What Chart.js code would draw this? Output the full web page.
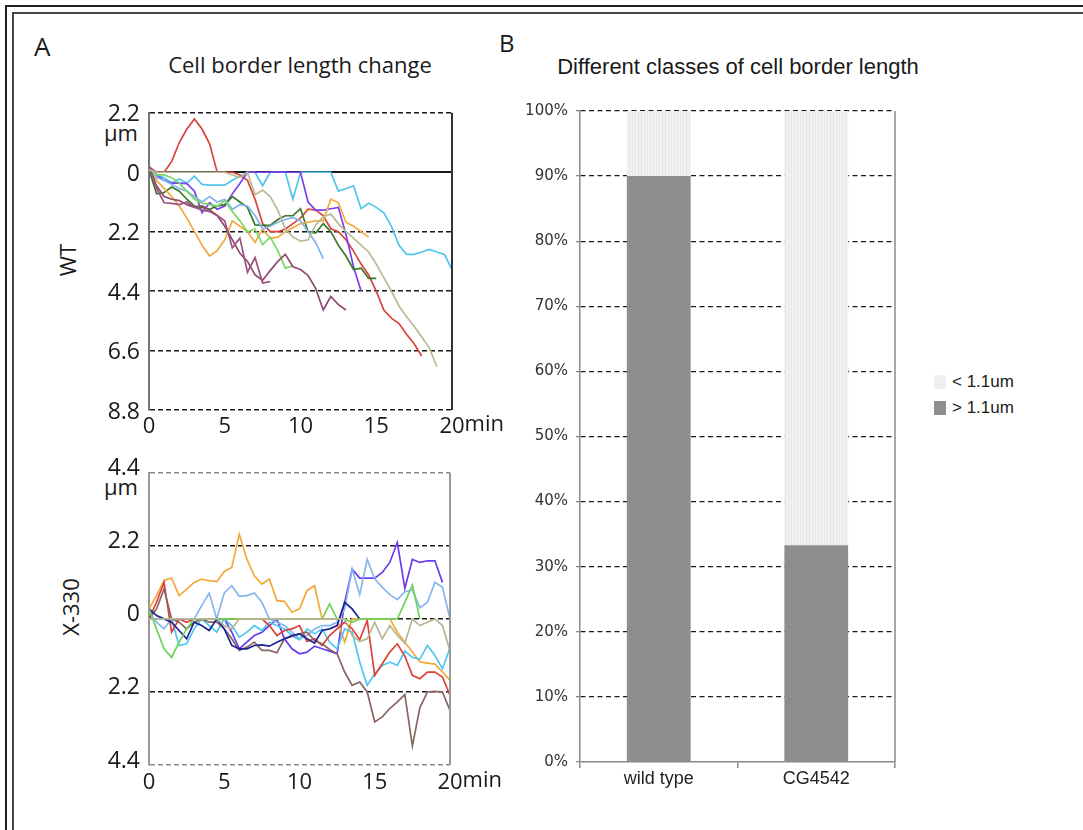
<!DOCTYPE html>
<html>
<head>
<meta charset="utf-8">
<script src="https://cdn.jsdelivr.net/npm/chart.js@4.4.1/dist/chart.umd.min.js"></script>
<style>
  body { margin: 0; width: 1083px; height: 830px; position: relative; background: #fff; overflow: hidden; }
  .frame { position: absolute; right: -10px; bottom: -10px; border-top: 2px solid #1e1e1e; border-left: 2px solid #1e1e1e; }
  .txt { position: absolute; line-height: 1; white-space: nowrap; color: #1a1a1a; }
  .c { transform: translate(-50%, -50%); }
  .v { transform: translate(-50%, -50%) rotate(-90deg); }
  .panelA { font-family: "Open Sans", sans-serif; }
  .panelB { font-family: "Liberation Sans", Arial, sans-serif; }
  canvas { position: absolute; }
  .sw { position: absolute; width: 12px; height: 14px; }
</style>
</head>
<body>
<div class="frame" style="left:5px;top:5px"></div>
<div class="frame" style="left:12px;top:12px;border-color:#444"></div>

<div class="txt panelA" style="left:34px;top:33px;font-size:26px">A</div>
<div class="txt panelA c" style="left:300px;top:64px;font-size:22px">Cell border length change</div>
<div class="txt panelA v" style="left:67px;top:260px;font-size:22px">WT</div>
<div class="txt panelA v" style="left:70px;top:607px;font-size:22px">X-330</div>
<div class="txt panelA c" style="left:121px;top:132px;font-size:22px">μm</div>
<div class="txt panelA c" style="left:121px;top:486px;font-size:22px">μm</div>

<div class="txt panelA" style="left:499px;top:31px;font-size:24px">B</div>
<div class="txt panelB c" style="left:738px;top:67px;font-size:22px">Different classes of cell border length</div>

<div class="sw" style="left:934px;top:375px;background:#efefef"></div>
<div class="txt panelB" style="left:952px;top:373px;font-size:17px">&lt; 1.1um</div>
<div class="sw" style="left:934px;top:401px;background:#8e8e8e"></div>
<div class="txt panelB" style="left:952px;top:399px;font-size:17px">&gt; 1.1um</div>

<canvas id="wtChart" width="420" height="360" style="left:90px;top:90px"></canvas>
<canvas id="x330Chart" width="420" height="350" style="left:90px;top:450px"></canvas>
<canvas id="classChart" width="583" height="720" style="left:500px;top:90px"></canvas>

<script>
// ====== shared time axis (min) ======
const minutes = [0, 0.5, 1, 1.5, 2, 2.5, 3, 3.5, 4, 4.5, 5, 5.5, 6, 6.5, 7, 7.5, 8, 8.5, 9, 9.5,
  10, 10.5, 11, 11.5, 12, 12.5, 13, 13.5, 14, 14.5, 15, 15.5, 16, 16.5, 17, 17.5, 18, 18.5, 19, 19.5, 20];
const minuteTicks = [0, 5, 10, 15, 20];

// ====== WT border length change (um, negative = shorter) ======
const wtTicks = [-8.8, -6.6, -4.4, -2.2, 0, 2.2];
const wtRed = [0.2, 0, 0, 0.4, 1.1, 1.6, 1.97, 1.6, 1.05, 0, 0, 0, -0.1, -0.3, -1.0, -1.9, -2.2, -2.2, -2.1, -1.9,
  -1.7, -1.37, -1.4, -1.6, -2.09, -2.2, -2.5, -2.92, -3.4, -3.8, -4.4, -5.1, -5.4, -5.6, -6.0, -6.35, -6.8];
const wtCyan = [0.1, -0.1, -0.2, -0.4, -0.25, -0.4, -0.15, -0.45, -0.48, -0.48, -0.48, -0.3, -0.15, 0, 0, -0.5, 0, 0, 0, -1.0,
  0, 0, 0, 0, 0, -0.7, -0.6, -0.5, -1.35, -1.15, -1.3, -1.5, -2.0, -2.7, -3.04, -3.04, -2.95, -2.86, -2.95, -3.04, -3.6];
const wtPurple = [0.2, -0.1, -0.3, -0.4, -0.4, -0.42, -0.7, -1.5, -1.13, -1.37, -1.25, -0.8, -0.42, 0, 0, 0, 0, 0, 0, 0,
  0, -1.1, -1.4, -1.4, -1.35, -1.3, -2.3, -3.5, -4.4];
const wtLightBlue = [0.1, -0.2, -0.3, -0.45, -0.6, -0.7, -0.9, -1.1, -0.9, -1.1, -1.0, -1.37, -1.2, -1.25, -1.6, -2.1, -2.0, -1.85, -1.75, -1.67,
  -1.8, -2.2, -2.6, -3.2];
const wtOrange = [0.1, -0.3, -0.6, -0.9, -1.25, -1.7, -2.2, -2.7, -3.1, -2.9, -2.5, -1.8, -2.0, -2.2, -2.6, -2.1, -2.45, -2.4, -2.2, -2.05,
  -1.9, -1.85, -1.8, -1.8, -1.0, -1.13, -1.85, -2.0, -2.2, -2.4];
const wtDarkGreen = [0.1, -0.8, -0.75, -0.55, -0.7, -1.0, -1.25, -1.3, -1.37, -1.25, -1.2, -0.9, -1.1, -1.3, -1.95, -1.97, -1.97, -1.75, -1.61, -1.61,
  -1.35, -2.2, -2.25, -1.9, -2.2, -2.7, -3.1, -3.6, -3.55, -3.93, -3.93];
const wtLightGreen = [0.1, -0.1, -0.1, -0.2, -0.4, -0.7, -1.0, -1.15, -1.2, -1.25, -1.05, -1.45, -1.8, -2.2, -2.1, -2.68, -2.4, -2.9, -3.55, -3.46];
const wtKhaki = [0.1, 0, 0, 0, 0, 0, 0, 0, 0, 0, 0, -0.1, -0.2, 0, -0.83, -0.66, -0.9, -1.4, -2.1, -2.4,
  -2.55, -2.5, -1.95, -1.65, -1.55, -1.9, -2.2, -2.44, -2.7, -2.95, -3.4, -3.9, -4.4, -4.95, -5.35, -5.7, -6.1, -6.5, -7.2];
const wtMauveA = [0.25, -0.6, -1.13, -1.15, -1.2, -1.1, -1.3, -1.4, -1.45, -1.6, -1.8, -2.8, -2.44, -3.7, -3.16, -4.1, -4.05];
const wtMauveB = [0.2, -0.5, -0.9, -1.0, -1.05, -1.2, -1.3, -1.25, -1.4, -1.6, -2.0, -2.5, -3.0, -3.3, -3.8, -4.0, -3.64, -3.3, -3.04, -3.5,
  -3.6, -3.82, -4.3, -5.1, -4.6, -4.9, -5.1];

// ====== X-330 border length change (um) ======
const x330Ticks = [-4.4, -2.2, 0, 2.2, 4.4];
const x330Orange = [0.3, 0.7, 1.16, 1.23, 0.7, 0.9, 1.1, 1.2, 1.15, 1.12, 1.43, 1.55, 2.55, 1.8, 1.3, 1.05, 1.2, 0.55, 0.53, 0.2,
  0.3, 0.85, 1.0, 0, 0, 0, -0.7, 0, 0, 0, 0, 0, 0, -0.4, -0.7, -1.0, -1.3, -1.33, -1.36, -1.6, -1.85];
const x330LightBlue = [0.2, -0.1, -0.3, 0, 0, 0, 0, 0.4, 0.78, 0, 0.78, 1.0, 0.68, 0.7, 0.78, 0.5, 0, -0.1, -0.2, -0.4,
  -0.6, -0.5, -0.3, -0.2, -0.2, -0.1, 0.3, 1.5, 0.73, 1.79, 1.21, 0.95, 0.73, 0.58, 0.82, 0.87, 0.34, 0.5, 1.1, 0.95, 0];
const x330Violet = [0, 0, 0, 0, 0, 0, 0, 0, 0, 0, 0, -0.4, -0.9, -0.7, -0.5, -0.4, -0.2, 0, -0.6, -0.9,
  -1.05, -1.0, -0.82, -0.9, -0.97, -1.05, 0.5, 1.5, 1.23, 1.23, 1.23, 1.4, 1.7, 2.3, 0.92, 1.79, 1.7, 1.75, 1.75, 1.1];
const x330Navy = [0.3, 0.1, 0, -0.1, -0.35, -0.6, -0.1, -0.2, -0.35, 0, -0.3, -0.8, -0.9, -0.9, -0.8, -0.78, -0.82, -0.7, -0.6, -0.5,
  -0.45, -0.6, -0.73, -0.35, -0.3, -0.2, 0.5, 0.3, 0];
const x330Brown = [0, 0.3, 0.9, 0, -0.1, -0.3, -0.1, 0, -0.1, -0.1, -0.3, -0.6, -0.95, -0.85, -0.7, -0.95, -0.95, -1.02, -0.6, -0.53,
  -0.45, -0.4, -0.65, -0.75, -0.92, -1.05, -1.6, -2.0, -1.9, -2.2, -3.1, -2.95, -2.7, -2.5, -2.28, -3.83, -2.67, -2.2, -2.18, -2.2, -2.76];
const x330Red = [0, 0.5, 1.1, -0.4, 0, -0.1, 0, 0, 0, 0, 0, 0, 0, 0, 0, 0, -0.2, -0.5, -0.35, -0.3,
  -0.2, -0.68, -0.6, -0.8, -0.5, -0.3, -0.1, -0.3, -0.63, -0.05, -1.7, -1.35, -1.0, -0.75, -1.12, -1.7, -1.8, -1.6, -1.6, -1.75, -2.3];
const x330Cyan = [0, 0, 0, 0, -0.8, -0.75, -0.3, 0, -0.2, -0.4, 0, -0.2, -0.55, -0.4, -0.2, -0.35, -0.1, -0.2, -0.3, -0.5,
  -0.63, -0.3, -0.45, -0.3, -0.7, -0.9, -0.3, -0.4, -1.3, -2.0, -1.65, -1.4, -1.3, -1.4, -0.97, -1.16, -1.21, -0.8, -1.1, -1.5, -0.87];
const x330Green = [0.3, -0.3, -0.9, -1.16, -0.7, -0.3, 0, 0, 0, 0, 0, 0, 0, 0, 0, 0, 0, 0, 0, 0,
  0, 0, 0, 0, 0.45, 0, 0, -0.1, 0, 0, 0, 0, 0, 0, 0.5, 1.02, 0];
const x330Khaki = [0, 0, 0, 0, 0, 0, 0, 0, 0, 0, -0.2, -0.3, 0, 0, 0, 0, 0, 0, 0, 0,
  0, 0, 0, 0, 0, 0, 0, -0.5, -0.68, -0.6, -0.1, -0.6, -0.2, -0.5, -0.73, 0, -0.2, -0.1, 0, -0.2, -0.97];

// ====== classes of border length (%) ======
const groups = ["wild type", "CG4542"];
const longShare = [90, 33.3];    // > 1.1um
const shortShare = [10, 66.7];   // < 1.1um
const percentTicks = [0, 10, 20, 30, 40, 50, 60, 70, 80, 90, 100];

// ---- helpers ----
const ink = "#1a1a1a";

function series(values, color) {
  return {
    data: values.map((v, i) => ({ x: minutes[i], y: v })),
    borderColor: color,
    borderWidth: 1.7,
    pointRadius: 0,
    tension: 0,
    fill: false
  };
}

// right frame line + "min" unit after last x tick
const extras = {
  id: "extras",
  afterDraw(chart, args, opts) {
    const { ctx, chartArea: a } = chart;
    ctx.save();
    if (opts.frameColor) {
      ctx.strokeStyle = opts.frameColor;
      ctx.lineWidth = opts.frameWidth || 1.5;
      ctx.beginPath();
      ctx.moveTo(a.right, a.top);
      ctx.lineTo(a.right, a.bottom);
      ctx.stroke();
    }
    if (opts.unit) {
      const xs = chart.scales.x;
      const t = xs.options.ticks;
      const last = xs.ticks[xs.ticks.length - 1];
      const px = xs.getPixelForValue(last.value);
      ctx.font = t.font.size + "px " + t.font.family;
      const w = ctx.measureText(String(last.value)).width;
      ctx.fillStyle = t.color;
      ctx.textAlign = "left";
      ctx.textBaseline = "middle";
      ctx.fillText(opts.unit, px + w / 2, xs.top + t.padding + t.font.size * 0.6 + 6);
    }
    ctx.restore();
  }
};

function lineChart(id, sets, yTicks, cfg) {
  const top = yTicks[yTicks.length - 1];
  const bottom = yTicks[0];
  return new Chart(document.getElementById(id), {
    type: "line",
    data: { datasets: sets },
    options: {
      responsive: false,
      animation: false,
      layout: { padding: { top: cfg.padTop, right: cfg.padRight, left: 0, bottom: 0 } },
      plugins: {
        legend: { display: false },
        tooltip: { enabled: false },
        extras: { frameColor: cfg.frame, frameWidth: 2, unit: "min" }
      },
      scales: {
        x: {
          type: "linear",
          min: 0,
          max: 20,
          afterBuildTicks: s => { s.ticks = minuteTicks.map(v => ({ value: v })); },
          afterFit: s => { s.height = cfg.xHeight; },
          grid: { display: false },
          border: { display: false },
          ticks: {
            padding: cfg.xPad,
            maxRotation: 0,
            autoSkip: false,
            color: ink,
            font: { family: "Open Sans", size: 22 },
            callback: v => String(v)
          }
        },
        y: {
          min: bottom,
          max: top,
          afterBuildTicks: s => { s.ticks = yTicks.map(v => ({ value: v })); },
          afterFit: s => { s.width = cfg.yWidth; },
          grid: {
            drawTicks: false,
            color: c => (c.tick && (c.tick.value === top || c.tick.value === bottom) ? cfg.edgeGrid : "#1a1a1a"),
            lineWidth: c => (c.tick && c.tick.value === 0 ? cfg.zeroWidth : 1.4)
          },
          border: {
            color: cfg.axis,
            width: 2,
            dash: c => (c.tick && c.tick.value === 0 && cfg.solidZero ? [] : [5, 3])
          },
          ticks: {
            padding: 9,
            labelOffset: cfg.labelOffset,
            color: ink,
            font: { family: "Open Sans", size: 23 },
            callback: v => (v === 0 ? "0" : Math.abs(v).toFixed(1))
          }
        }
      }
    },
    plugins: [extras]
  });
}

// ====== WT ======
lineChart("wtChart", [
  series(wtKhaki, "#b9ba95"),
  series(wtMauveA, "#9c527e"),
  series(wtMauveB, "#8f4a72"),
  series(wtLightGreen, "#79d862"),
  series(wtLightBlue, "#82b4ee"),
  series(wtOrange, "#f2aa3e"),
  series(wtDarkGreen, "#3a7a29"),
  series(wtPurple, "#7a3ff0"),
  series(wtRed, "#d9443a"),
  series(wtCyan, "#50c6ec")
], wtTicks, {
  padTop: 13, padRight: 58, xHeight: 40, yWidth: 59, xPad: -4,
  edgeGrid: "#1a1a1a", axis: "#777", frame: "#333", solidZero: true, zeroWidth: 2, labelOffset: 2
});

// ====== X-330 ======
lineChart("x330Chart", [
  series(x330Khaki, "#b5b793"),
  series(x330Green, "#6fd25a"),
  series(x330Navy, "#1b2396"),
  series(x330Brown, "#8a6461"),
  series(x330Red, "#de4136"),
  series(x330Cyan, "#4cc8f0"),
  series(x330LightBlue, "#86b6ef"),
  series(x330Orange, "#f3a93a"),
  series(x330Violet, "#6a3bf0")
], x330Ticks, {
  padTop: 15, padRight: 60, xHeight: 35, yWidth: 59, xPad: -3,
  edgeGrid: "#8a8a8a", axis: "#999", frame: "#999", solidZero: false, zeroWidth: 1.6, labelOffset: -4
});

// ====== bar fill textures ======
function texture(base, dot, w, h, cells) {
  const c = document.createElement("canvas");
  c.width = w; c.height = h;
  const g = c.getContext("2d");
  g.fillStyle = base;
  g.fillRect(0, 0, w, h);
  g.fillStyle = dot;
  cells.forEach(([x, y, cw, ch]) => g.fillRect(x, y, cw, ch));
  return g.createPattern(c, "repeat");
}
const ctxB = document.getElementById("classChart").getContext("2d");
const darkFill = texture("#8b8b8b", "#a0a0a0", 4, 4, [[0, 0, 1, 1], [2, 2, 1, 1]]);
const lightFill = texture("#f1f1f1", "#e6e6e6", 6, 1, [[0, 0, 1, 1], [3, 0, 1, 1]]);

// ====== classes chart ======
new Chart(ctxB, {
  type: "bar",
  data: {
    labels: groups,
    datasets: [
      { label: "> 1.1um", data: longShare, backgroundColor: darkFill, barPercentage: 0.405, categoryPercentage: 1 },
      { label: "< 1.1um", data: shortShare, backgroundColor: lightFill, barPercentage: 0.405, categoryPercentage: 1 }
    ]
  },
  options: {
    responsive: false,
    animation: false,
    layout: { padding: { top: 21, right: 188, left: 0, bottom: 0 } },
    plugins: {
      legend: { display: false },
      tooltip: { enabled: false },
      extras: { frameColor: "#8a8a8a", frameWidth: 1.5 }
    },
    scales: {
      x: {
        stacked: true,
        afterFit: s => { s.height = 48; },
        grid: { drawOnChartArea: false, drawTicks: true, tickLength: 6, color: "#8a8a8a", lineWidth: 1.5 },
        border: { color: "#8a8a8a", width: 1.5 },
        ticks: { padding: 0, color: "#222", font: { family: "Liberation Sans", size: 18 } }
      },
      y: {
        stacked: true,
        min: 0,
        max: 100,
        afterBuildTicks: s => { s.ticks = percentTicks.map(v => ({ value: v })); },
        afterFit: s => { s.width = 80; },
        grid: {
          drawTicks: true,
          tickLength: 4,
          tickColor: "#8a8a8a",
          color: c => (c.tick && c.tick.value === 0 ? "rgba(0,0,0,0)" : "#1a1a1a"),
          lineWidth: 1.3
        },
        border: { color: "#8a8a8a", width: 1.5, dash: [5, 3.5] },
        ticks: {
          padding: 8,
          color: "#333",
          font: { family: "DejaVu Sans", size: 15 },
          callback: v => v + "%"
        }
      }
    }
  },
  plugins: [extras]
});
</script>
</body>
</html>
